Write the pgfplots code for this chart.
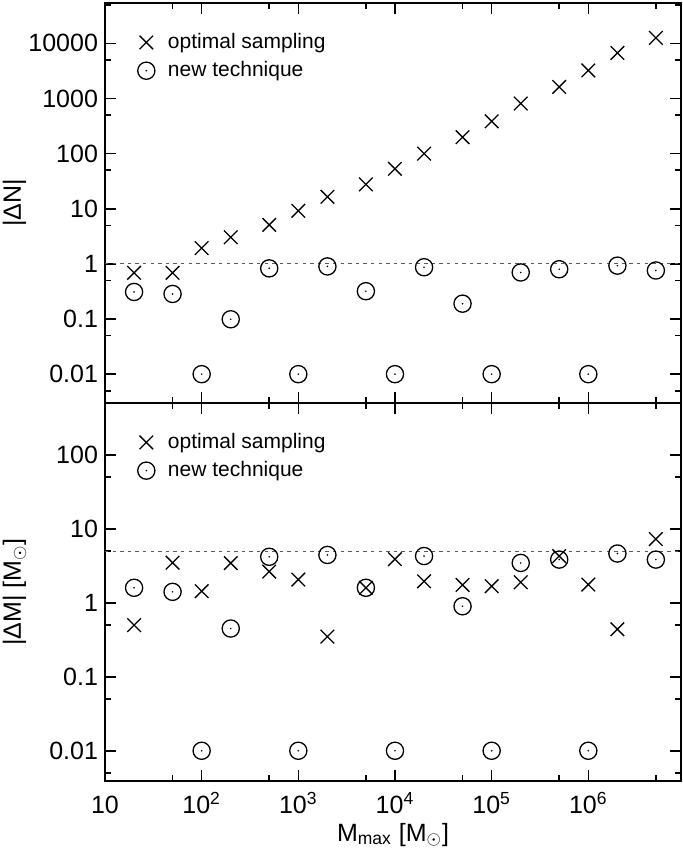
\documentclass[border=0pt]{standalone}
\usepackage{fontspec}
\setmainfont{Liberation Sans}
\usepackage{pgfplots}
\pgfplotsset{compat=1.18}
\pgfdeclareplotmark{odot}{%
  \pgfpathcircle{\pgfpointorigin}{\pgfplotmarksize}\pgfusepathqstroke
  \pgfpathcircle{\pgfpointorigin}{0.45pt}\pgfusepathqfill}
\pgfplotsset{
  xsym/.style={only marks, mark=x, mark size=4.8pt, line width=0.65pt, black},
  osym/.style={only marks, mark=odot, mark size=4.3pt, line width=0.65pt, black},
  refline/.style={dash pattern=on 1.7pt off 2.1pt, line width=0.45pt, black!65, forget plot},
  legend image code/.code={%
    \path (0pt,0pt) (17pt,0pt);
    \draw[#1] plot coordinates {(8.5pt,0pt)};},
}
\begin{document}
\begin{tikzpicture}
\begin{axis}[name=topaxis, xmode=log, ymode=log, scale only axis, width=288pt, height=200pt,
  xmin=10, xmax=9.1e6,
  ymin=0.003, ymax=5.4e4,
  axis line style={line width=1pt},
  every tick/.style={line width=0.8pt, black},
  major tick length=5.6pt, minor tick length=2.8pt,
  tick align=inside,
  xtick={10,100,1000,10000,100000,1000000},
  minor xtick={50,500,5000,50000,500000,5000000},
  xticklabels={},
  ytick={0.01,0.1,1,10,100,1000,10000},
  yticklabels={0.01,0.1,1,10,100,1000,10000},
  minor ytick={0.005,0.05,0.5,5,50,500,5000,50000},
  tick label style={font=\fontsize{12.5}{14}\selectfont},
  label style={font=\fontsize{12.5}{14}\selectfont},
  legend style={draw=none, fill=none, at={(axis description cs:0.03,0.945)}, anchor=north west,
    font=\fontsize{10.5}{12}\selectfont, row sep=1pt},
  legend cell align=left,
  ylabel={|ΔN|}, ylabel style={at={(axis description cs:-0.146,0.5)}, anchor=base},
]
\addplot[refline] coordinates {(10,1) (9.1e6,1)};
\addplot[xsym] coordinates {
(20,0.69) (50,0.69) (100,1.93) (200,3.05) (500,5.1) (1000,9.2) (2000,16.5) (5000,27.7)
(1e4,53) (2e4,100) (5e4,199) (1e5,386) (2e5,810) (5e5,1620) (1e6,3230) (2e6,6700) (5e6,12600)};
\addlegendentry{optimal sampling}
\addplot[osym] coordinates {
(20,0.31) (50,0.285) (100,0.01) (200,0.099) (500,0.83) (1000,0.01) (2000,0.9) (5000,0.32)
(1e4,0.01) (2e4,0.87) (5e4,0.19) (1e5,0.01) (2e5,0.7) (5e5,0.8) (1e6,0.01) (2e6,0.93) (5e6,0.76)};
\addlegendentry{new technique}
\end{axis}
\begin{axis}[name=botaxis, at={(topaxis.south west)}, anchor=north west,
  xmode=log, ymode=log, scale only axis, width=288pt, height=189pt,
  xmin=10, xmax=9.1e6,
  ymin=0.0039, ymax=505,
  axis line style={line width=1pt},
  every tick/.style={line width=0.8pt, black},
  major tick length=5.6pt, minor tick length=2.8pt,
  tick align=inside,
  xtick={10,100,1000,10000,100000,1000000},
  minor xtick={50,500,5000,50000,500000,5000000},
  xticklabels={10,10\textsuperscript{2},10\textsuperscript{3},10\textsuperscript{4},10\textsuperscript{5},10\textsuperscript{6}},
  xticklabel style={anchor=base, yshift=-16pt},
  ytick={0.01,0.1,1,10,100},
  yticklabels={0.01,0.1,1,10,100},
  minor ytick={0.005,0.05,0.5,5,50,500},
  tick label style={font=\fontsize{12.5}{14}\selectfont},
  label style={font=\fontsize{12.5}{14}\selectfont},
  legend style={draw=none, fill=none, at={(axis description cs:0.03,0.942)}, anchor=north west,
    font=\fontsize{10.5}{12}\selectfont, row sep=1pt},
  legend cell align=left,
  ylabel={|ΔM| [M\textsubscript{\(\odot\)}]}, ylabel style={at={(axis description cs:-0.146,0.5)}, anchor=base},
  xlabel={M\textsubscript{max} [M\textsubscript{\(\odot\)}]},
  xlabel style={at={(axis description cs:0.5,0)}, anchor=base, yshift=-30pt},
]
\addplot[refline] coordinates {(10,5) (9.1e6,5)};
\addplot[xsym] coordinates {
(20,0.50) (50,3.5) (100,1.44) (200,3.45) (500,2.65) (1000,2.07) (2000,0.35) (5000,1.6)
(1e4,3.9) (2e4,1.96) (5e4,1.75) (1e5,1.68) (2e5,1.9) (5e5,4.3) (1e6,1.77) (2e6,0.44) (5e6,7.3)};
\addlegendentry{optimal sampling}
\addplot[osym] coordinates {
(20,1.6) (50,1.41) (100,0.01) (200,0.45) (500,4.2) (1000,0.01) (2000,4.45) (5000,1.6)
(1e4,0.01) (2e4,4.3) (5e4,0.9) (1e5,0.01) (2e5,3.47) (5e5,3.85) (1e6,0.01) (2e6,4.65) (5e6,3.85)};
\addlegendentry{new technique}
\end{axis}
\pgfresetboundingbox
\path ([shift={(-52.5pt,1.5pt)}]topaxis.north west) rectangle ++(341pt,-430.5pt);
\end{tikzpicture}
\end{document}
